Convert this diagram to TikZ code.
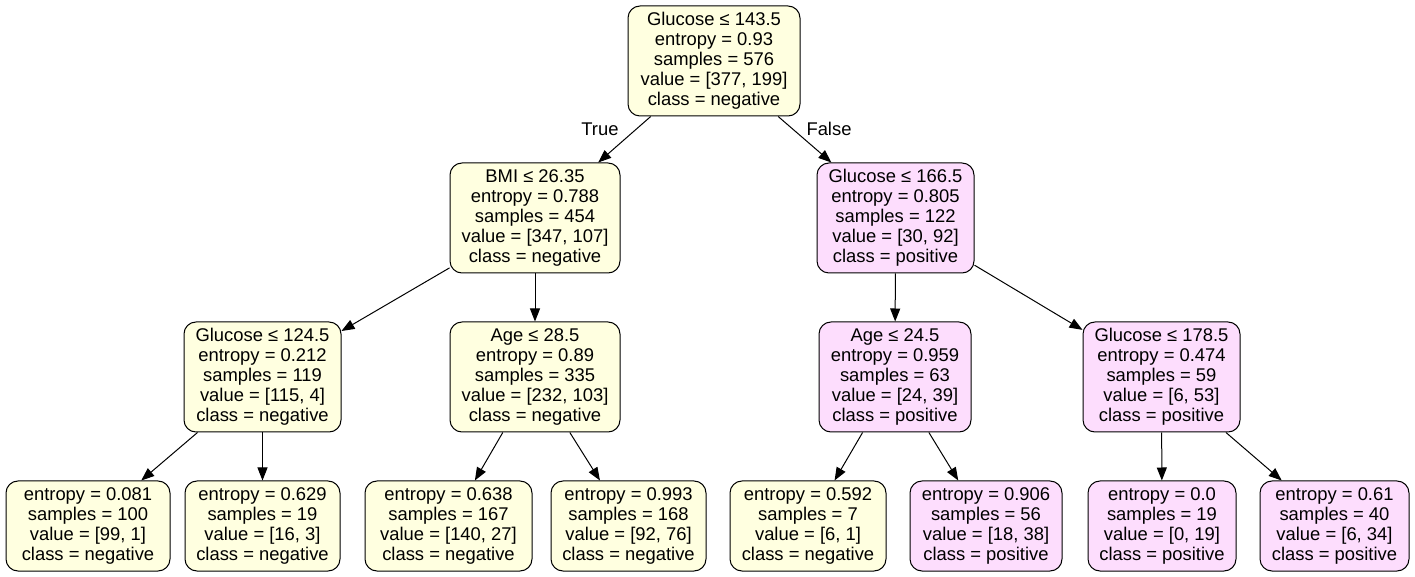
\documentclass[tikz,border=0pt]{standalone}
\usepackage{fontspec}
\setmainfont{Liberation Sans}
\usetikzlibrary{arrows.meta}
\definecolor{yel}{HTML}{FFFFE0}
\definecolor{pnk}{HTML}{FDDDFD}
\begin{document}
\begin{tikzpicture}[x=0.5pt,y=-0.5pt,
  treebox/.style={draw=black, line width=0.5pt, rounded corners=6pt, align=center, inner sep=0pt,
    font=\fontsize{9.2}{10}\selectfont},
  negbox/.style={treebox, fill=yel},
  posbox/.style={treebox, fill=pnk},
  splitbox/.style={minimum height=55pt},
  leafbox/.style={minimum height=45pt},
  arr/.style={draw, line width=0.5pt, -{Triangle[length=6.5pt,width=5pt]}},
  lbl/.style={font=\fontsize{9.2}{10}\selectfont, inner sep=0pt}]
\useasboundingbox (0,0) rectangle (1415,577);
\node[negbox, splitbox, minimum width=86pt] (root) at (714,61) {Glucose ≤ 143.5\\entropy = 0.93\\samples = 576\\value = [377, 199]\\class = negative};
\node[negbox, splitbox, minimum width=85pt] (bmi) at (535,218) {BMI ≤ 26.35\\entropy = 0.788\\samples = 454\\value = [347, 107]\\class = negative};
\node[posbox, splitbox, minimum width=78.5pt] (g166) at (895.5,218) {Glucose ≤ 166.5\\entropy = 0.805\\samples = 122\\value = [30, 92]\\class = positive};
\node[negbox, splitbox, minimum width=78.5pt] (g124) at (262.5,377) {Glucose ≤ 124.5\\entropy = 0.212\\samples = 119\\value = [115, 4]\\class = negative};
\node[negbox, splitbox, minimum width=85pt] (age28) at (535,377) {Age ≤ 28.5\\entropy = 0.89\\samples = 335\\value = [232, 103]\\class = negative};
\node[posbox, splitbox, minimum width=76pt] (age24) at (895,377) {Age ≤ 24.5\\entropy = 0.959\\samples = 63\\value = [24, 39]\\class = positive};
\node[posbox, splitbox, minimum width=78.5pt] (g178) at (1161.5,377) {Glucose ≤ 178.5\\entropy = 0.474\\samples = 59\\value = [6, 53]\\class = positive};
\node[negbox, leafbox, minimum width=82pt] (l1) at (88,526) {entropy = 0.081\\samples = 100\\value = [99, 1]\\class = negative};
\node[negbox, leafbox, minimum width=77.5pt] (l2) at (262.5,526) {entropy = 0.629\\samples = 19\\value = [16, 3]\\class = negative};
\node[negbox, leafbox, minimum width=83.5pt] (l3) at (448.5,526) {entropy = 0.638\\samples = 167\\value = [140, 27]\\class = negative};
\node[negbox, leafbox, minimum width=77.5pt] (l4) at (628.5,526) {entropy = 0.993\\samples = 168\\value = [92, 76]\\class = negative};
\node[negbox, leafbox, minimum width=78pt] (l5) at (808,526) {entropy = 0.592\\samples = 7\\value = [6, 1]\\class = negative};
\node[posbox, leafbox, minimum width=76pt] (l6) at (986,526) {entropy = 0.906\\samples = 56\\value = [18, 38]\\class = positive};
\node[posbox, leafbox, minimum width=74pt] (l7) at (1162,526) {entropy = 0.0\\samples = 19\\value = [0, 19]\\class = positive};
\node[posbox, leafbox, minimum width=74.5pt] (l8) at (1334.5,526) {entropy = 0.61\\samples = 40\\value = [6, 34]\\class = positive};
\draw[arr] (root) -- (bmi);
\draw[arr] (root) -- (g166);
\draw[arr] (bmi) -- (g124);
\draw[arr] (bmi) -- (age28);
\draw[arr] (g166) -- (age24);
\draw[arr] (g166) -- (g178);
\draw[arr] (g124) -- (l1);
\draw[arr] (g124) -- (l2);
\draw[arr] (age28) -- (l3);
\draw[arr] (age28) -- (l4);
\draw[arr] (age24) -- (l5);
\draw[arr] (age24) -- (l6);
\draw[arr] (g178) -- (l7);
\draw[arr] (g178) -- (l8);
\node[lbl] (ltrue) at (600,129) {True};
\node[lbl] (lfalse) at (829,129) {False};
\end{tikzpicture}
\end{document}
